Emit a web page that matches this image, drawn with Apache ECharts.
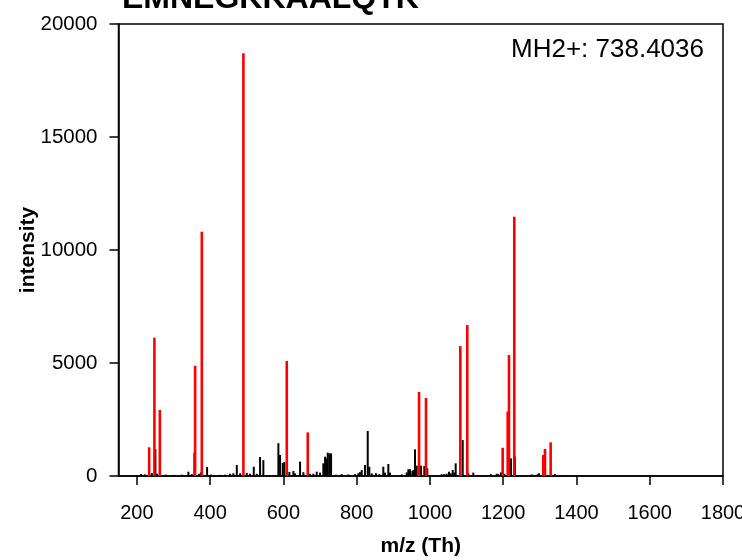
<!DOCTYPE html>
<html>
<head>
<meta charset="utf-8">
<script src="https://cdn.jsdelivr.net/npm/echarts@6/dist/echarts.min.js"></script>
<style>
  html, body { margin: 0; padding: 0; background: #fff; }
  #chart { width: 742px; height: 560px; }
</style>
</head>
<body>
<div id="chart"></div>
<script>
// annotated fragment ions (red)
const redMz = [233.6, 248.0, 262.8, 359.1, 377.4, 490.9, 609.3, 666.6, 970.3, 989.3,
  1083.0, 1102.0, 1198.6, 1212.3, 1215.8, 1230.3, 1309.4, 1314.1, 1329.6];
const redIntensity = [1270, 6120, 2920, 4870, 10810, 18705, 5090, 1930, 3717, 3450,
  5750, 6680, 1250, 2850, 5350, 11475, 930, 1195, 1490];

// unannotated peaks (black)
const blackMz = [211.7, 222.6, 240.9, 250.7, 255.4, 279.1, 301.8, 322.8, 340.8, 350.1,
  357.2, 370.0, 375.4, 391.8, 402.7, 427.3, 440.9, 454.6, 463.6, 472.9,
  481.9, 500.1, 509.1, 519.2, 527.4, 536.4, 545.4, 586.4, 591.0, 598.4,
  602.7, 616.4, 627.3, 631.9, 645.6, 654.6, 672.9, 681.9, 691.1, 700.1,
  709.1, 713.8, 718.4, 721.1, 725.5, 730.2, 743.8, 759.3, 777.4, 795.6,
  804.6, 809.3, 813.9, 822.9, 830.3, 834.6, 841.2, 852.9, 861.9, 872.8,
  877.5, 886.5, 891.1, 923.1, 936.7, 941.1, 945.7, 952.0, 954.7, 959.3,
  963.9, 975.7, 984.7, 992.9, 1032.2, 1039.3, 1045.8, 1052.1, 1056.7, 1062.2,
  1066.6, 1070.4, 1089.5, 1104.8, 1118.4, 1166.7, 1182.3, 1186.6, 1194.0, 1203.0,
  1217.7, 1221.3, 1232.2, 1277.8, 1294.1, 1297.7, 1341.4];
const blackIntensity = [90, 70, 130, 1190, 100, 60, 50, 60, 190, 80,
  1030, 100, 160, 400, 60, 50, 60, 100, 120, 490,
  120, 140, 100, 410, 100, 840, 700, 1450, 930, 575,
  620, 180, 220, 120, 635, 170, 100, 100, 190, 150,
  560, 855, 780, 1030, 1000, 1000, 60, 80, 70, 80,
  120, 170, 260, 490, 1990, 410, 120, 120, 80, 410,
  150, 530, 150, 70, 160, 300, 300, 220, 265, 1180,
  455, 455, 440, 340, 80, 80, 100, 190, 120, 265,
  150, 560, 1590, 120, 150, 80, 100, 80, 160, 100,
  100, 780, 855, 70, 80, 120, 80];

const xTicks = [200, 400, 600, 800, 1000, 1200, 1400, 1600, 1800];
const titleText = 'EMNEGKKAALQTK';
const precursorText = 'MH2+: 738.4036';

const FONT = "'Liberation Sans', Arial, sans-serif";

// one vertical stick per peak, from the baseline up to its intensity
const stickRenderer = (color, width) => (params, api) => {
  const top = api.coord([api.value(0), api.value(1)]);
  const base = api.coord([api.value(0), 0]);
  return {
    type: 'line',
    shape: { x1: top[0], y1: base[1], x2: top[0], y2: top[1] },
    style: { stroke: color, lineWidth: width }
  };
};

const chart = echarts.init(document.getElementById('chart'));

chart.setOption({
  animation: false,
  backgroundColor: '#fff',
  title: {
    text: titleText,
    left: 122,
    top: -17,
    padding: 0,
    textStyle: { fontFamily: FONT, fontSize: 32, fontWeight: 'bold', color: '#000' }
  },
  graphic: [{
    type: 'text',
    right: 38,
    top: 37,
    style: { text: precursorText, font: '26px ' + FONT, fill: '#000' }
  }],
  grid: {
    left: 118.5,
    right: 19,
    top: 24,
    bottom: 84,
    outerBoundsMode: 'none',
    containLabel: false,
    show: true,
    borderColor: '#000',
    borderWidth: 1.5
  },
  xAxis: {
    type: 'value',
    min: 150,
    max: 1800,
    name: 'm/z (Th)',
    nameLocation: 'middle',
    nameGap: 60,
    nameTextStyle: { fontFamily: FONT, fontSize: 21, fontWeight: 'bold', color: '#000' },
    axisLine: { lineStyle: { color: '#000', width: 1.5 } },
    axisTick: { show: true, inside: false, length: 9, customValues: xTicks, lineStyle: { color: '#000', width: 1.5 } },
    axisLabel: {
      customValues: xTicks,
      margin: 27,
      fontFamily: FONT,
      fontSize: 20,
      color: '#000',
      formatter: v => String(v)
    },
    splitLine: { show: false }
  },
  yAxis: {
    type: 'value',
    min: 0,
    max: 20000,
    interval: 5000,
    name: 'intensity',
    nameLocation: 'middle',
    nameGap: 80,
    nameMoveOverlap: false,
    nameTextStyle: { fontFamily: FONT, fontSize: 21, fontWeight: 'bold', color: '#000' },
    axisLine: { show: true, lineStyle: { color: '#000', width: 1.5 } },
    axisTick: { show: true, inside: false, length: 9, lineStyle: { color: '#000', width: 1.5 } },
    axisLabel: { margin: 21, fontFamily: FONT, fontSize: 20.5, color: '#000', formatter: v => String(v) },
    splitLine: { show: false }
  },
  series: [
    {
      name: 'unannotated',
      type: 'custom',
      renderItem: stickRenderer('#000', 2),
      data: blackMz.map((mz, i) => [mz, blackIntensity[i]]),
      z: 2
    },
    {
      name: 'annotated',
      type: 'custom',
      renderItem: stickRenderer('#ff0000', 2.6),
      data: redMz.map((mz, i) => [mz, redIntensity[i]]),
      z: 3
    }
  ]
});
</script>
</body>
</html>
